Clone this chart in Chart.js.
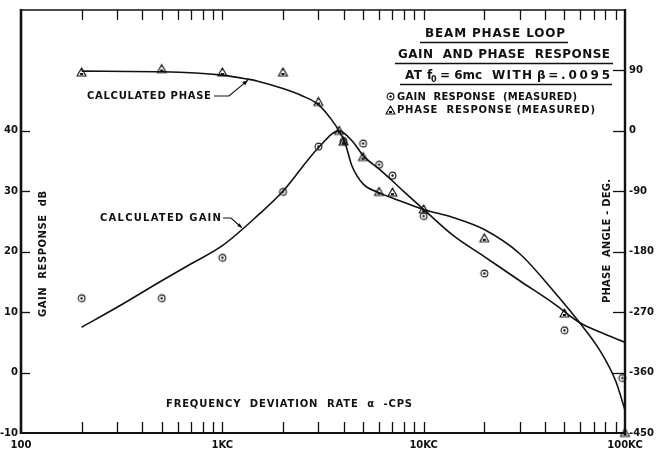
<!DOCTYPE html>
<html>
<head>
<meta charset="utf-8">
<script src="https://cdn.jsdelivr.net/npm/chart.js@4/dist/chart.umd.min.js"></script>
<style>
html,body{margin:0;padding:0;background:#fff;}
#wrap{width:658px;height:454px;position:relative;}
canvas{display:block;}
</style>
</head>
<body>
<div id="wrap"><canvas id="c" width="658" height="454"></canvas></div>
<script>
// ---- data ----
const calcGainFreq = [200, 300, 500, 700, 1000, 1500, 2000, 3000, 3800, 4500, 5000, 6000, 7000, 8000, 10000, 14000, 20000, 30000, 44000, 60000, 75000, 100000];
const calcGainDb   = [7.5, 10.8, 15.2, 18, 21, 26, 30, 37.2, 40, 38, 35.9, 33.7, 31.7, 29.9, 27.0, 22.7, 19.2, 15.2, 11.5, 8.2, 6.7, 5.0];

const calcPhaseFreq = [200, 500, 1000, 1340, 1500, 2000, 2500, 3000, 3500, 3800, 4070, 4400, 5000, 6000, 7600, 10000, 14000, 20000, 30000, 44000, 60000, 75000, 90000, 100000];
const calcPhaseDeg  = [89, 88, 83, 77, 74, 63, 52, 39, 16, 0, -18, -52, -79, -92, -104, -117, -129, -147, -183, -238, -287, -327, -373, -416];

const measGainFreq = [200, 500, 1000, 2000, 3000, 4000, 5000, 6000, 7000, 10000, 20000, 50000, 97000];
const measGainDb   = [12.3, 12.3, 19.0, 29.9, 37.4, 38.3, 37.9, 34.4, 32.6, 25.9, 16.4, 7.0, -0.9];

const measPhaseFreq = [200, 500, 1000, 2000, 3000, 3800, 4000, 5000, 6000, 7000, 10000, 20000, 50000, 100000];
const measPhaseDeg  = [87, 92, 87, 87, 43, 0, -16, -39, -91, -92, -117, -160, -272, -450];

const xTickValues = [100, 1000, 10000, 100000];
const xTickLabels = ['100', '1KC', '10KC', '100KC'];
const gainTicks  = [-10, 0, 10, 20, 30, 40];
const phaseTicks = [-450, -360, -270, -180, -90, 0, 90];

// ---- marker images ----
function circleMarker() {
  const c = document.createElement('canvas'); c.width = 11; c.height = 11;
  const g = c.getContext('2d');
  g.strokeStyle = '#111'; g.lineWidth = 1.1;
  g.beginPath(); g.arc(5.5, 5.5, 3.4, 0, Math.PI * 2); g.stroke();
  g.fillStyle = '#111'; g.beginPath(); g.arc(5.5, 5.5, 1.2, 0, Math.PI * 2); g.fill();
  return c;
}
function triMarker() {
  const c = document.createElement('canvas'); c.width = 13; c.height = 13;
  const g = c.getContext('2d');
  g.strokeStyle = '#111'; g.lineWidth = 1.2; g.lineJoin = 'round';
  g.beginPath(); g.moveTo(6.5, 2); g.lineTo(2, 10); g.lineTo(11, 10); g.closePath(); g.stroke();
  g.fillStyle = '#111'; g.fillRect(5, 7, 3, 2);
  return c;
}
const circleImg = circleMarker();
const triImg = triMarker();

const FONT = '"DejaVu Sans", "Liberation Sans", sans-serif';

function drawFit(ctx, text, x, y, w, font) {
  ctx.save();
  ctx.font = font;
  ctx.letterSpacing = '0px';
  ctx.textAlign = 'left';
  ctx.textBaseline = 'middle';
  const n = Array.from(text).length;
  const w0 = ctx.measureText(text).width;
  const ls = n > 1 ? (w - w0) / (n - 1) : 0;
  ctx.letterSpacing = ls.toFixed(2) + 'px';
  ctx.fillText(text, x, y);
  ctx.restore();
}
function seg(ctx, x1, y1, x2, y2, lw) {
  ctx.lineWidth = lw; ctx.beginPath(); ctx.moveTo(x1, y1); ctx.lineTo(x2, y2); ctx.stroke();
}
function arrowHead(ctx, fx, fy, tx, ty, size) {
  const ang = Math.atan2(ty - fy, tx - fx);
  ctx.beginPath();
  ctx.moveTo(tx, ty);
  ctx.lineTo(tx - size * Math.cos(ang - 0.4), ty - size * Math.sin(ang - 0.4));
  ctx.lineTo(tx - size * Math.cos(ang + 0.4), ty - size * Math.sin(ang + 0.4));
  ctx.closePath(); ctx.fill();
}

const decor = {
  id: 'decor',
  afterDraw(chart) {
    const { ctx, chartArea: a, scales } = chart;
    const xs = scales.x, yG = scales.yG, yP = scales.yP;
    ctx.save();
    ctx.strokeStyle = '#111'; ctx.fillStyle = '#111';
    // frame
    seg(ctx, a.left, a.top, a.right, a.top, 1.5);
    seg(ctx, a.left, a.top - 1, a.left, a.bottom + 1, 2.6);
    seg(ctx, a.right, a.top - 1, a.right, a.bottom + 1, 2.4);
    seg(ctx, a.left, a.bottom, a.right, a.bottom, 2);
    // log minor ticks top and bottom
    [100, 1000, 10000].forEach(d => {
      for (let m = 2; m <= 10; m++) {
        const v = d * m;
        if (v >= 100000) continue;
        const px = Math.round(xs.getPixelForValue(v)) + 0.5;
        seg(ctx, px, a.top, px, a.top + 10, 1.3);
        seg(ctx, px, a.bottom, px, a.bottom - 11, 1.3);
      }
    });
    // left ticks
    gainTicks.forEach(v => {
      if (v === -10) return;
      const py = Math.round(yG.getPixelForValue(v)) + 0.5;
      seg(ctx, a.left, py, a.left + 9, py, 1.3);
    });
    // right ticks
    phaseTicks.forEach(v => {
      if (v === -450) return;
      const py = Math.round(yP.getPixelForValue(v)) + 0.5;
      seg(ctx, a.right - 12, py, a.right, py, 1.3);
    });

    // axis titles
    ctx.save(); ctx.translate(43, 254); ctx.rotate(-Math.PI / 2);
    drawFit(ctx, 'GAIN  RESPONSE  dB', -63, 0, 126, 'bold 10px ' + FONT);
    ctx.restore();
    ctx.save(); ctx.translate(607, 241); ctx.rotate(-Math.PI / 2);
    drawFit(ctx, 'PHASE  ANGLE - DEG.', -62, 0, 124, 'bold 10px ' + FONT);
    ctx.restore();
    drawFit(ctx, 'FREQUENCY  DEVIATION  RATE  α  -CPS', 166, 404, 246, 'bold 10px ' + FONT);

    // title block
    const tf = 'bold 12px ' + FONT;
    drawFit(ctx, 'BEAM PHASE LOOP', 425, 34, 140, tf);
    seg(ctx, 420, 42.5, 568, 42.5, 1.4);
    drawFit(ctx, 'GAIN  AND PHASE  RESPONSE', 398, 55, 212, tf);
    seg(ctx, 395, 63.5, 613, 63.5, 1.4);
    drawFit(ctx, 'AT', 405, 76, 17, tf);
    drawFit(ctx, 'f', 427, 76, 5, tf);
    drawFit(ctx, '0', 431, 80, 5, 'bold 8px ' + FONT);
    drawFit(ctx, '= 6mc', 440, 76, 42, tf);
    drawFit(ctx, 'WITH', 492, 76, 40, tf);
    drawFit(ctx, 'β=.0095', 537, 76, 73, tf);
    seg(ctx, 400, 84.5, 612, 84.5, 1.4);
    // legend
    ctx.drawImage(circleImg, 385, 91);
    drawFit(ctx, 'GAIN  RESPONSE  (MEASURED)', 397, 97, 180, 'bold 10px ' + FONT);
    ctx.drawImage(triImg, 384, 104);
    drawFit(ctx, 'PHASE  RESPONSE (MEASURED)', 397, 110, 198, 'bold 10px ' + FONT);

    // annotations
    drawFit(ctx, 'CALCULATED PHASE', 87, 96, 124, 'bold 10px ' + FONT);
    const pTipX = xs.getPixelForValue(1340), pTipY = yP.getPixelForValue(77);
    ctx.lineWidth = 1.1;
    ctx.beginPath(); ctx.moveTo(214, 96); ctx.lineTo(229, 96); ctx.lineTo(pTipX, pTipY + 1); ctx.stroke();
    arrowHead(ctx, 229, 96, pTipX, pTipY + 1, 6);

    drawFit(ctx, 'CALCULATED GAIN', 100, 218, 121, 'bold 10px ' + FONT);
    const gTipX = xs.getPixelForValue(1250), gTipY = yG.getPixelForValue(23.8);
    ctx.beginPath(); ctx.moveTo(223, 218); ctx.lineTo(231, 218); ctx.lineTo(gTipX, gTipY - 1); ctx.stroke();
    arrowHead(ctx, 231, 218, gTipX, gTipY - 1, 5);
    ctx.restore();
  }
};

const pts = (xs, ys) => xs.map((x, i) => ({ x, y: ys[i] }));

new Chart(document.getElementById('c'), {
  type: 'scatter',
  data: {
    datasets: [
      { label: 'Calculated gain', data: pts(calcGainFreq, calcGainDb), yAxisID: 'yG', showLine: true,
        pointRadius: 0, borderColor: '#111', borderWidth: 1.6, cubicInterpolationMode: 'monotone', fill: false },
      { label: 'Calculated phase', data: pts(calcPhaseFreq, calcPhaseDeg), yAxisID: 'yP', showLine: true,
        pointRadius: 0, borderColor: '#111', borderWidth: 1.6, cubicInterpolationMode: 'monotone', fill: false },
      { label: 'Gain response (measured)', data: pts(measGainFreq, measGainDb), yAxisID: 'yG', showLine: false,
        pointStyle: circleImg, pointRadius: 5, clip: false },
      { label: 'Phase response (measured)', data: pts(measPhaseFreq, measPhaseDeg), yAxisID: 'yP', showLine: false,
        pointStyle: triImg, pointRadius: 5, clip: false }
    ]
  },
  options: {
    responsive: false,
    animation: false,
    devicePixelRatio: 1,
    events: [],
    layout: { padding: { top: 10, left: 0, right: 0, bottom: 0 } },
    plugins: { legend: { display: false }, tooltip: { enabled: false } },
    scales: {
      x: {
        type: 'logarithmic', position: 'bottom', min: 100, max: 100000,
        grid: { display: false, drawTicks: false, tickLength: 0 }, border: { display: false },
        afterBuildTicks: s => { s.ticks = xTickValues.map(v => ({ value: v })); },
        afterFit: s => { s.height = 21; },
        ticks: {
          autoSkip: false, maxRotation: 0, minRotation: 0, padding: 6, color: '#111',
          font: { family: FONT, size: 10, weight: 'bold' },
          callback: v => { const i = xTickValues.indexOf(v); return i >= 0 ? xTickLabels[i] : ''; }
        }
      },
      yG: {
        type: 'linear', position: 'left', min: -10, max: 60,
        grid: { display: false, drawTicks: false, tickLength: 0 }, border: { display: false },
        afterBuildTicks: s => { s.ticks = gainTicks.map(v => ({ value: v })); },
        afterFit: s => { s.width = 21; },
        ticks: { padding: 3, color: '#111', font: { family: FONT, size: 10, weight: 'bold' } }
      },
      yP: {
        type: 'linear', position: 'right', min: -450, max: 180,
        grid: { display: false, drawTicks: false, tickLength: 0 }, border: { display: false },
        afterBuildTicks: s => { s.ticks = phaseTicks.map(v => ({ value: v })); },
        afterFit: s => { s.width = 33; },
        ticks: { padding: 4, color: '#111', font: { family: FONT, size: 10, weight: 'bold' } }
      }
    }
  },
  plugins: [decor]
});
</script>
</body>
</html>
